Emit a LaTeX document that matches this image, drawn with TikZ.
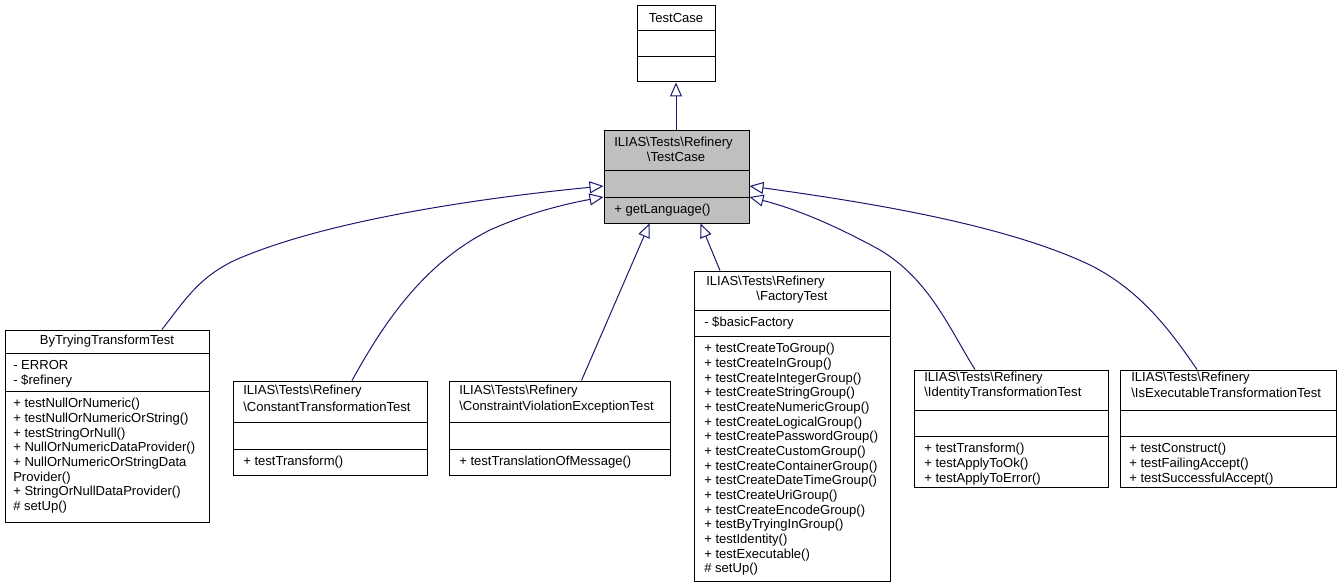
\documentclass[tikz,border=0pt]{standalone}
\usepackage{fontspec}
\setmainfont{Liberation Sans}
\usetikzlibrary{arrows.meta,fit}
\definecolor{edge}{HTML}{191970}
\definecolor{hl}{HTML}{BFBFBF}
\newcommand{\bsl}{\textbackslash}
\begin{document}
\begin{tikzpicture}[x=0.75pt,y=-0.75pt,
  box/.style={draw,line width=0.75pt,inner sep=0pt},
  txt/.style={inner sep=0pt,font=\fontsize{9.8}{11}\selectfont},
  lt/.style={txt,anchor=west},
  ct/.style={txt},
  blk/.style={txt,anchor=north west,align=left},
  dv/.style={line width=0.75pt},
  inh/.style={draw=edge,line width=0.75pt,-{Triangle[open,length=10.5pt,width=9pt]}}]
\useasboundingbox (0,0) rectangle (1341,588);
% TestCase
\node[box,fit={(637,6)(715,82)}] (tc) {};
\node[ct] at (676,18) {TestCase};
\draw[dv] (637,31) -- (715,31) (637,57) -- (715,57);
% ILIAS TestCase
\node[box,fill=hl,fit={(604,131)(749,223)}] (p) {};
\node[lt] at (614,143) {ILIAS\bsl Tests\bsl Refinery};
\node[ct] at (676,157) {\bsl TestCase};
\draw[dv] (604,171) -- (749,171) (604,197) -- (749,197);
\node[lt] at (614,210) {+ getLanguage()};
% ByTrying
\node[box,fit={(5,330)(209,522)}] (bt) {};
\node[ct] at (107,341) {ByTryingTransformTest};
\draw[dv] (5,353) -- (209,353) (5,391) -- (209,391);
\node[blk] at (13,360) {- ERROR\\- \$refinery};
\node[blk] at (13,398) {+ testNullOrNumeric()\\+ testNullOrNumericOrString()\\+ testStringOrNull()\\+ NullOrNumericDataProvider()\\+ NullOrNumericOrStringData\\Provider()\\+ StringOrNullDataProvider()\\\# setUp()};
% Constant
\node[box,fit={(233,381)(427,475)}] (ct) {};
\node[lt] at (243,391) {ILIAS\bsl Tests\bsl Refinery};
\node[lt] at (243,407) {\bsl ConstantTransformationTest};
\draw[dv] (233,422) -- (427,422) (233,449) -- (427,449);
\node[lt] at (243,462) {+ testTransform()};
% Constraint
\node[box,fit={(449,381)(670,475)}] (cv) {};
\node[lt] at (459,391) {ILIAS\bsl Tests\bsl Refinery};
\node[lt] at (459,407) {\bsl ConstraintViolationExceptionTest};
\draw[dv] (449,422) -- (670,422) (449,449) -- (670,449);
\node[lt] at (459,462) {+ testTranslationOfMessage()};
% Factory
\node[box,fit={(694,271)(890,581)}] (ft) {};
\node[lt] at (706,282) {ILIAS\bsl Tests\bsl Refinery};
\node[ct] at (792,297) {\bsl FactoryTest};
\draw[dv] (694,310) -- (890,310) (694,336) -- (890,336);
\node[lt] at (704,323) {- \$basicFactory};
\node[blk] at (704,343) {+ testCreateToGroup()\\+ testCreateInGroup()\\+ testCreateIntegerGroup()\\+ testCreateStringGroup()\\+ testCreateNumericGroup()\\+ testCreateLogicalGroup()\\+ testCreatePasswordGroup()\\+ testCreateCustomGroup()\\+ testCreateContainerGroup()\\+ testCreateDateTimeGroup()\\+ testCreateUriGroup()\\+ testCreateEncodeGroup()\\+ testByTryingInGroup()\\+ testIdentity()\\+ testExecutable()\\\# setUp()};
% Identity
\node[box,fit={(914,370)(1108,487)}] (it) {};
\node[lt] at (924,378) {ILIAS\bsl Tests\bsl Refinery};
\node[lt] at (924,393) {\bsl IdentityTransformationTest};
\draw[dv] (914,410) -- (1108,410) (914,436) -- (1108,436);
\node[blk] at (924,443) {+ testTransform()\\+ testApplyToOk()\\+ testApplyToError()};
% IsExecutable
\node[box,fit={(1120,370)(1336,487)}] (ie) {};
\node[lt] at (1131,378) {ILIAS\bsl Tests\bsl Refinery};
\node[lt] at (1131,393) {\bsl IsExecutableTransformationTest};
\draw[dv] (1120,410) -- (1336,410) (1120,436) -- (1336,436);
\node[blk] at (1129,443) {+ testConstruct()\\+ testFailingAccept()\\+ testSuccessfulAccept()};
% edges
\draw[inh] (tc.north |- p.north) -- (tc.south);
\draw[inh] ([xshift={55*0.75pt}]bt.north) .. controls (185,300) and (200,275) .. (240,258) .. controls (330,220) and (480,198) .. ([yshift={-9*0.75pt}]p.west);
\draw[inh] ([xshift={22*0.75pt}]ct.north) .. controls (380,330) and (420,265) .. (490,230) .. controls (530,212) and (570,203) .. ([yshift={-20*0.75pt}]p.west);
\draw[inh] ([xshift={22*0.75pt}]cv.north) -- ([xshift={-27*0.75pt}]p.south);
\draw[inh] ([xshift={-72*0.75pt}]ft.north) -- ([xshift={24*0.75pt}]p.south);
\draw[inh] ([xshift={-36*0.75pt}]it.north) .. controls (950,330) and (930,280) .. (880,250) .. controls (840,228) and (800,210) .. ([yshift={-20*0.75pt}]p.east);
\draw[inh] ([xshift={-31*0.75pt}]ie.north) .. controls (1170,330) and (1140,290) .. (1090,265) .. controls (1000,222) and (850,200) .. ([yshift={-9*0.75pt}]p.east);
\end{tikzpicture}
\end{document}
